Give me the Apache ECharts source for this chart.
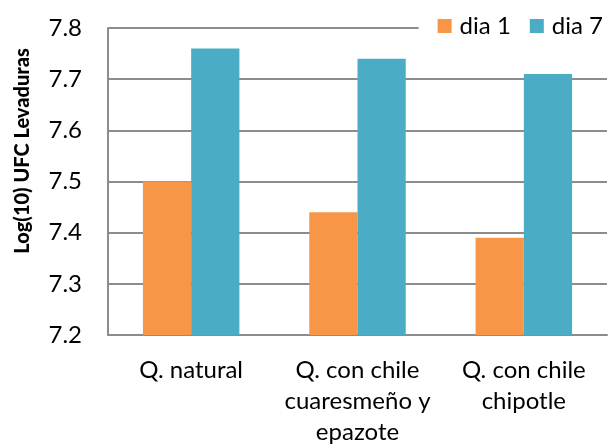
<!DOCTYPE html>
<html>
<head>
<meta charset="utf-8">
<script src="https://cdn.jsdelivr.net/npm/echarts@6/dist/echarts.min.js"></script>
<style>
html,body{margin:0;padding:0;background:#fff;}
#c{width:608px;height:448px;}
</style>
</head>
<body>
<div id="c"></div>
<script>
var categories = ['Q. natural', 'Q. con chile\ncuaresmeño y\nepazote', 'Q. con chile\nchipotle'];
var dia1 = [7.50, 7.44, 7.39];
var dia7 = [7.76, 7.74, 7.71];
var seriesNames = ['dia 1', 'dia 7'];
var yTitle = 'Log(10) UFC Levaduras';

var FONT = 'Lato';
var GRID = '#8c8c8c';
var chart = echarts.init(document.getElementById('c'), null, {renderer: 'canvas'});
chart.setOption({
  animation: false,
  backgroundColor: '#fff',
  grid: {left: 108, right: 1, top: 28, bottom: 110, containLabel: false},
  legend: {
    data: seriesNames,
    right: 0, top: 8,
    itemWidth: 14, itemHeight: 14, itemGap: 19,
    icon: 'rect',
    backgroundColor: '#fff',
    padding: [6, 5, 6, 19],
    textStyle: {fontFamily: FONT, fontSize: 24, color: '#000', padding: [0, 0, 0, 3]}
  },
  xAxis: {
    type: 'category',
    data: categories,
    axisTick: {show: false},
    axisLine: {lineStyle: {color: GRID, width: 2}},
    axisLabel: {fontFamily: FONT, fontSize: 24, color: '#000', lineHeight: 31, margin: 20, interval: 0}
  },
  yAxis: {
    type: 'value',
    min: 7.2, max: 7.8, interval: 0.1,
    axisLine: {show: true, lineStyle: {color: GRID, width: 2}},
    axisTick: {show: false},
    splitLine: {lineStyle: {color: GRID, width: 2}},
    axisLabel: {fontFamily: FONT, fontSize: 24, color: '#000', margin: 26,
      formatter: function (v) { return v.toFixed(1); }}
  },
  series: [
    {name: seriesNames[0], type: 'bar', data: dia1, itemStyle: {color: '#F79646'}, barGap: '0%', barCategoryGap: '42%'},
    {name: seriesNames[1], type: 'bar', data: dia7, itemStyle: {color: '#4BACC6'}, barGap: '0%', barCategoryGap: '42%'}
  ],
  graphic: [{
    type: 'text',
    x: 23, y: 151,
    rotation: Math.PI / 2,
    style: {text: yTitle, fontFamily: FONT, fontWeight: 900, fontSize: 20, fill: '#000',
      align: 'center', verticalAlign: 'middle'}
  }]
});
</script>
</body>
</html>
